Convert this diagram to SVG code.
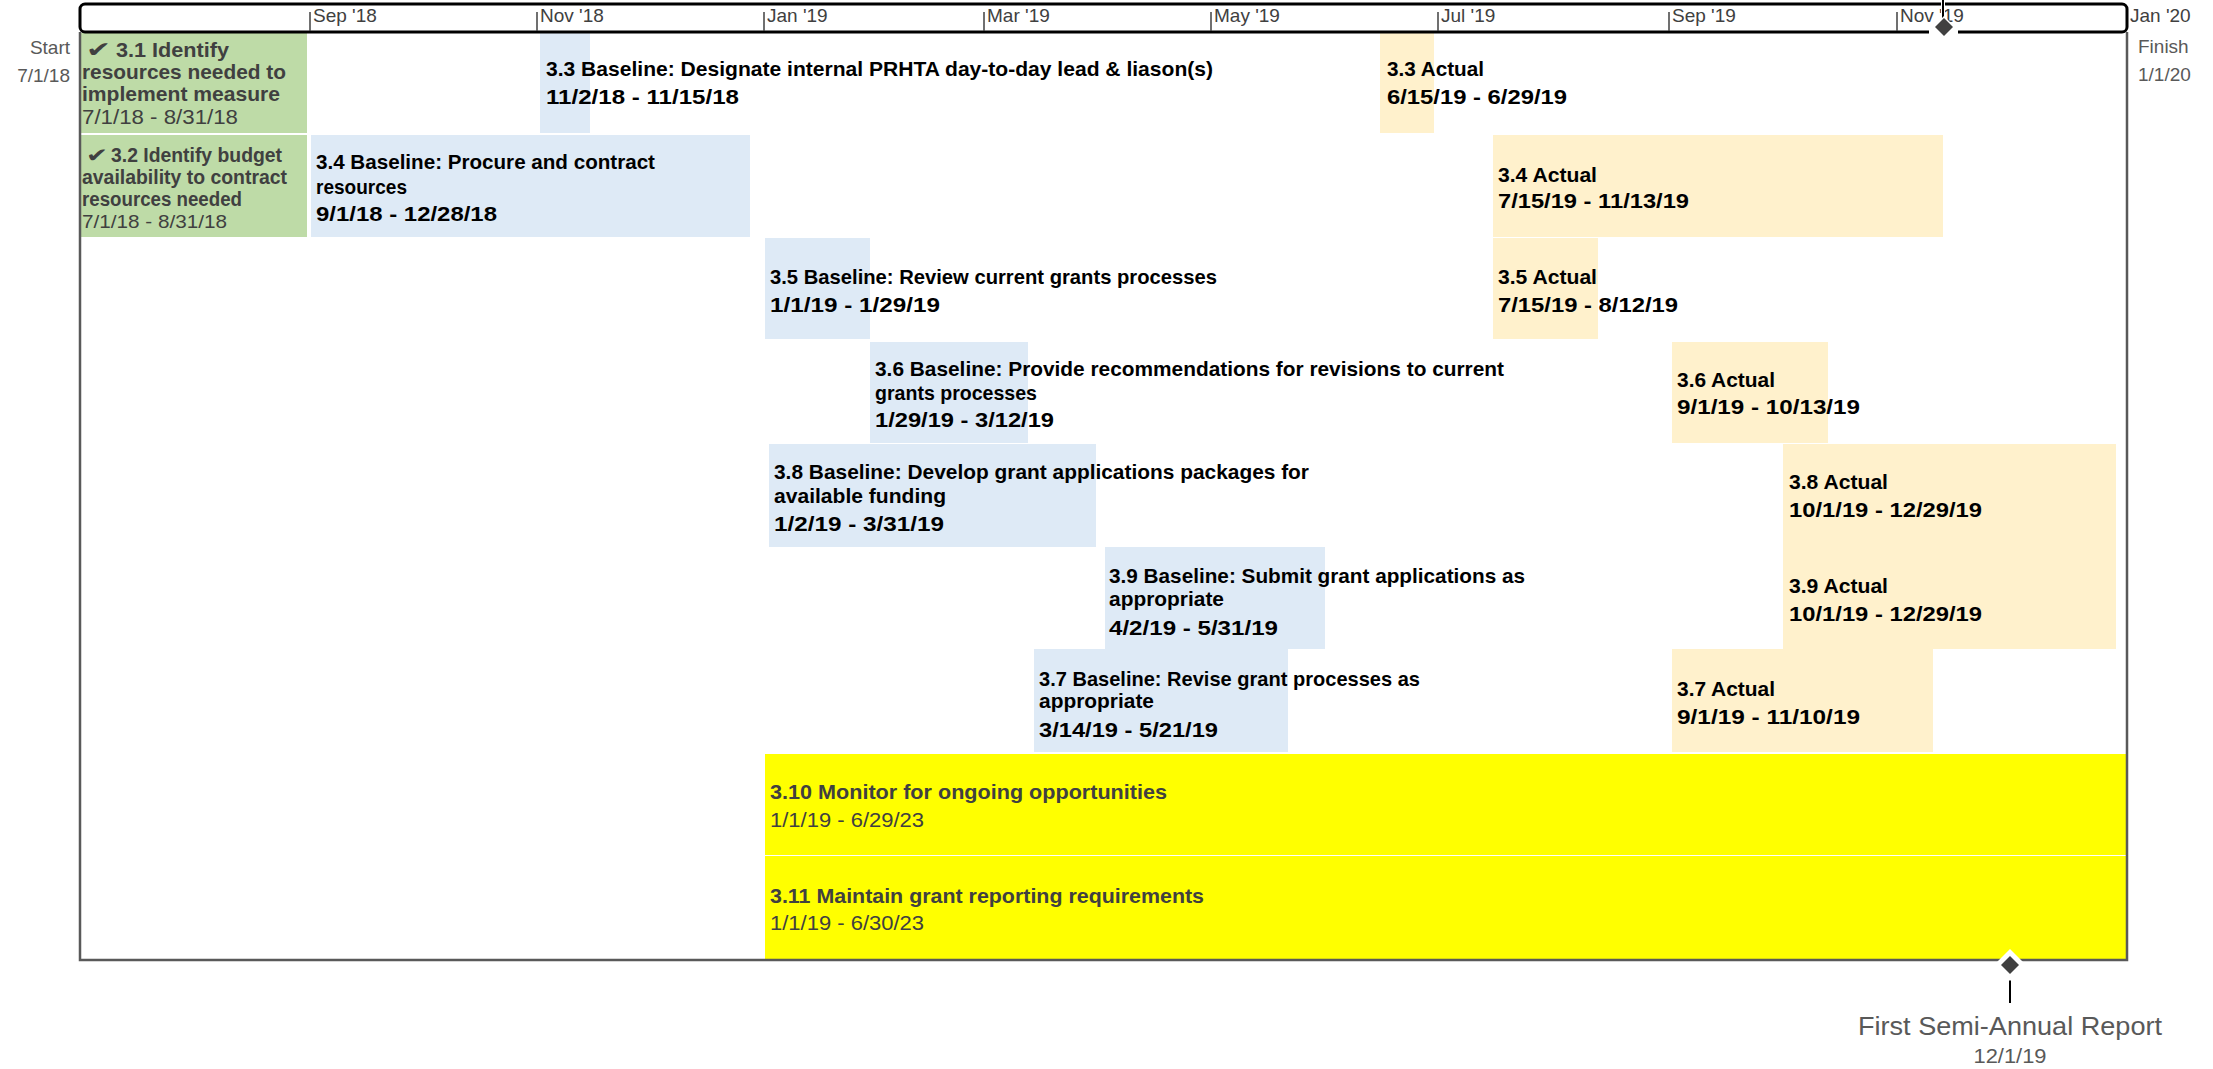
<svg xmlns="http://www.w3.org/2000/svg" width="2213" height="1069" viewBox="0 0 2213 1069">
  <style>
    text { font-family: "Liberation Sans", Arial, sans-serif; }
    .t { font-weight: bold; font-size: 21px; fill: #000; }
    .d { font-weight: bold; font-size: 21px; fill: #000; }
    .done { font-weight: bold; font-size: 21px; fill: #404040; }
    .done2 { font-weight: bold; font-size: 20px; fill: #404040; }
    .ddate { font-size: 20px; fill: #404040; }
    .chk { font-family: "DejaVu Sans", sans-serif; font-size: 22px; fill: #404040; }
    .axis { font-size: 19px; fill: #404040; }
    .edge { font-size: 19px; fill: #595959; }
    .ms { font-size: 26px; fill: #595959; }
    .msd { font-size: 20px; fill: #595959; }
    .ongoing { font-weight: bold; font-size: 21px; fill: #404040; }
    .green { fill: #BEDBA7; }
    .base { fill: #DEEAF6; }
    .act { fill: #FFF1CC; }
    .yel { fill: #FFFF00; }
    .frame { stroke: #595959; stroke-width: 2.5; fill: none; }
    .tick { stroke: #404040; stroke-width: 1.5; }
  </style>
  <defs>
    <path id="halo-s" d="M0,-11 L11,0 L0,11 L-11,0 Z" fill="#fff"/>
    <path id="halo" d="M0,-16 L16,0 L0,16 L-16,0 Z" fill="#fff"/>
    <path id="gem" d="M0,-9 L9,0 L0,9 L-9,0 Z" fill="#404040"/>
  </defs>

  <rect width="2213" height="1069" fill="#fff"/>

  <!-- task bars; every label line is fitted to its printed width -->
  <g id="task-3-1">
    <rect class="green" x="81" y="33" width="226" height="100"/>
    <text class="chk" x="86" y="57" textLength="25" lengthAdjust="spacingAndGlyphs">✔</text>
    <text class="done" x="116" y="57" textLength="113" lengthAdjust="spacingAndGlyphs">3.1 Identify</text>
    <text class="done" x="82" y="79" textLength="204" lengthAdjust="spacingAndGlyphs">resources needed to</text>
    <text class="done" x="82" y="101" textLength="198" lengthAdjust="spacingAndGlyphs">implement measure</text>
    <text class="ddate" x="82" y="124" textLength="156" lengthAdjust="spacingAndGlyphs">7/1/18 - 8/31/18</text>
  </g>
  <g id="task-3-2">
    <rect class="green" x="81" y="135" width="226" height="102"/>
    <text class="chk" x="86" y="162" textLength="22" lengthAdjust="spacingAndGlyphs" style="font-size:20px">✔</text>
    <text class="done2" x="111" y="162" textLength="171" lengthAdjust="spacingAndGlyphs">3.2 Identify budget</text>
    <text class="done2" x="82" y="184" textLength="205" lengthAdjust="spacingAndGlyphs">availability to contract</text>
    <text class="done2" x="82" y="206" textLength="160" lengthAdjust="spacingAndGlyphs">resources needed</text>
    <text class="ddate" x="82" y="228" textLength="145" lengthAdjust="spacingAndGlyphs" style="font-size:19px">7/1/18 - 8/31/18</text>
  </g>
  <g id="task-3-3-baseline">
    <rect class="base" x="540" y="33" width="50" height="100"/>
    <text class="t" x="546" y="76" textLength="667" lengthAdjust="spacingAndGlyphs">3.3 Baseline: Designate internal PRHTA day-to-day lead &amp; liason(s)</text>
    <text class="d" x="546" y="104" textLength="193" lengthAdjust="spacingAndGlyphs">11/2/18 - 11/15/18</text>
  </g>
  <g id="task-3-3-actual">
    <rect class="act" x="1380" y="33" width="54" height="100"/>
    <text class="t" x="1387" y="76" textLength="97" lengthAdjust="spacingAndGlyphs">3.3 Actual</text>
    <text class="d" x="1387" y="104" textLength="180" lengthAdjust="spacingAndGlyphs">6/15/19 - 6/29/19</text>
  </g>
  <g id="task-3-4-baseline">
    <rect class="base" x="311" y="135" width="439" height="102"/>
    <text class="t" x="316" y="169" textLength="339" lengthAdjust="spacingAndGlyphs">3.4 Baseline: Procure and contract</text>
    <text class="t" x="316" y="194" textLength="91" lengthAdjust="spacingAndGlyphs">resources</text>
    <text class="d" x="316" y="221" textLength="181" lengthAdjust="spacingAndGlyphs">9/1/18 - 12/28/18</text>
  </g>
  <g id="task-3-4-actual">
    <rect class="act" x="1493" y="135" width="450" height="102"/>
    <text class="t" x="1498" y="182" textLength="99" lengthAdjust="spacingAndGlyphs">3.4 Actual</text>
    <text class="d" x="1498" y="208" textLength="191" lengthAdjust="spacingAndGlyphs">7/15/19 - 11/13/19</text>
  </g>
  <g id="task-3-5-baseline">
    <rect class="base" x="765" y="238" width="105" height="101"/>
    <text class="t" x="770" y="284" textLength="447" lengthAdjust="spacingAndGlyphs">3.5 Baseline: Review current grants processes</text>
    <text class="d" x="770" y="312" textLength="170" lengthAdjust="spacingAndGlyphs">1/1/19 - 1/29/19</text>
  </g>
  <g id="task-3-5-actual">
    <rect class="act" x="1493" y="238" width="105" height="101"/>
    <text class="t" x="1498" y="284" textLength="99" lengthAdjust="spacingAndGlyphs">3.5 Actual</text>
    <text class="d" x="1498" y="312" textLength="180" lengthAdjust="spacingAndGlyphs">7/15/19 - 8/12/19</text>
  </g>
  <g id="task-3-6-baseline">
    <rect class="base" x="870" y="342" width="158" height="101"/>
    <text class="t" x="875" y="376" textLength="629" lengthAdjust="spacingAndGlyphs">3.6 Baseline: Provide recommendations for revisions to current</text>
    <text class="t" x="875" y="400" textLength="162" lengthAdjust="spacingAndGlyphs">grants processes</text>
    <text class="d" x="875" y="427" textLength="179" lengthAdjust="spacingAndGlyphs">1/29/19 - 3/12/19</text>
  </g>
  <g id="task-3-6-actual">
    <rect class="act" x="1672" y="342" width="156" height="101"/>
    <text class="t" x="1677" y="387" textLength="98" lengthAdjust="spacingAndGlyphs">3.6 Actual</text>
    <text class="d" x="1677" y="414" textLength="183" lengthAdjust="spacingAndGlyphs">9/1/19 - 10/13/19</text>
  </g>
  <g id="task-3-8-baseline">
    <rect class="base" x="769" y="444" width="327" height="103"/>
    <text class="t" x="774" y="479" textLength="535" lengthAdjust="spacingAndGlyphs">3.8 Baseline: Develop grant applications packages for</text>
    <text class="t" x="774" y="503" textLength="172" lengthAdjust="spacingAndGlyphs">available funding</text>
    <text class="d" x="774" y="531" textLength="170" lengthAdjust="spacingAndGlyphs">1/2/19 - 3/31/19</text>
  </g>
  <g id="task-3-8-actual">
    <rect class="act" x="1783" y="444" width="333" height="103"/>
    <text class="t" x="1789" y="489" textLength="99" lengthAdjust="spacingAndGlyphs">3.8 Actual</text>
    <text class="d" x="1789" y="517" textLength="193" lengthAdjust="spacingAndGlyphs">10/1/19 - 12/29/19</text>
  </g>
  <g id="task-3-9-baseline">
    <rect class="base" x="1105" y="547" width="220" height="102"/>
    <text class="t" x="1109" y="583" textLength="416" lengthAdjust="spacingAndGlyphs">3.9 Baseline: Submit grant applications as</text>
    <text class="t" x="1109" y="606" textLength="115" lengthAdjust="spacingAndGlyphs">appropriate</text>
    <text class="d" x="1109" y="635" textLength="169" lengthAdjust="spacingAndGlyphs">4/2/19 - 5/31/19</text>
  </g>
  <g id="task-3-9-actual">
    <rect class="act" x="1783" y="547" width="333" height="102"/>
    <text class="t" x="1789" y="593" textLength="99" lengthAdjust="spacingAndGlyphs">3.9 Actual</text>
    <text class="d" x="1789" y="621" textLength="193" lengthAdjust="spacingAndGlyphs">10/1/19 - 12/29/19</text>
  </g>
  <g id="task-3-7-baseline">
    <rect class="base" x="1034" y="649" width="254" height="103"/>
    <text class="t" x="1039" y="686" textLength="381" lengthAdjust="spacingAndGlyphs">3.7 Baseline: Revise grant processes as</text>
    <text class="t" x="1039" y="708" textLength="115" lengthAdjust="spacingAndGlyphs">appropriate</text>
    <text class="d" x="1039" y="737" textLength="179" lengthAdjust="spacingAndGlyphs">3/14/19 - 5/21/19</text>
  </g>
  <g id="task-3-7-actual">
    <rect class="act" x="1672" y="649" width="261" height="103"/>
    <text class="t" x="1677" y="696" textLength="98" lengthAdjust="spacingAndGlyphs">3.7 Actual</text>
    <text class="d" x="1677" y="724" textLength="183" lengthAdjust="spacingAndGlyphs">9/1/19 - 11/10/19</text>
  </g>
  <g id="task-3-10">
    <rect class="yel" x="765" y="754" width="1362" height="101"/>
    <text class="ongoing" x="770" y="799" textLength="397" lengthAdjust="spacingAndGlyphs">3.10 Monitor for ongoing opportunities</text>
    <text class="ddate" x="770" y="827" textLength="154" lengthAdjust="spacingAndGlyphs">1/1/19 - 6/29/23</text>
  </g>
  <g id="task-3-11">
    <rect class="yel" x="765" y="856" width="1362" height="103"/>
    <text class="ongoing" x="770" y="903" textLength="434" lengthAdjust="spacingAndGlyphs">3.11 Maintain grant reporting requirements</text>
    <text class="ddate" x="770" y="930" textLength="154" lengthAdjust="spacingAndGlyphs">1/1/19 - 6/30/23</text>
  </g>

  <!-- chart frame -->
  <g id="frame">
    <polyline class="frame" points="80,32 80,960 2127,960 2127,32"/>
  </g>

  <!-- timescale header -->
  <g id="timescale">
    <rect x="80" y="4" width="2047" height="28" rx="5" fill="#fff" stroke="#000" stroke-width="3"/>
    <line class="tick" x1="310" y1="12" x2="310" y2="31"/>
    <line class="tick" x1="537" y1="12" x2="537" y2="31"/>
    <line class="tick" x1="764" y1="12" x2="764" y2="31"/>
    <line class="tick" x1="984" y1="12" x2="984" y2="31"/>
    <line class="tick" x1="1211" y1="12" x2="1211" y2="31"/>
    <line class="tick" x1="1438" y1="12" x2="1438" y2="31"/>
    <line class="tick" x1="1669" y1="12" x2="1669" y2="31"/>
    <line class="tick" x1="1897" y1="12" x2="1897" y2="31"/>
    <text class="axis" x="313" y="22">Sep '18</text>
    <text class="axis" x="540" y="22">Nov '18</text>
    <text class="axis" x="767" y="22">Jan '19</text>
    <text class="axis" x="987" y="22">Mar '19</text>
    <text class="axis" x="1214" y="22">May '19</text>
    <text class="axis" x="1441" y="22">Jul '19</text>
    <text class="axis" x="1672" y="22">Sep '19</text>
    <text class="axis" x="1900" y="22">Nov '19</text>
    <text class="axis" x="2130" y="22">Jan '20</text>
  </g>

  <g id="start">
    <text class="edge" x="70" y="54" text-anchor="end">Start</text>
    <text class="edge" x="70" y="82" text-anchor="end">7/1/18</text>
  </g>
  <g id="finish">
    <text class="edge" x="2138" y="53">Finish</text>
    <text class="edge" x="2138" y="81">1/1/20</text>
  </g>

  <!-- milestone leader lines -->
  <g id="connectors">
    <line x1="1943" y1="0" x2="1943" y2="18" stroke="#fff" stroke-width="4"/>
    <line x1="1943" y1="0" x2="1943" y2="18" stroke="#000" stroke-width="2"/>
    <line x1="2010" y1="973" x2="2010" y2="1003" stroke="#000" stroke-width="2"/>
  </g>

  <g id="milestone-today">
    <rect x="1929" y="29" width="29" height="5" fill="#fff"/>
    <use href="#halo-s" x="1944" y="27"/>
    <use href="#gem" x="1944" y="27"/>
  </g>
  <g id="milestone-report">
    <use href="#halo" x="2010" y="965"/>
    <use href="#gem" x="2010" y="965"/>
    <text class="ms" x="2010" y="1035" text-anchor="middle" textLength="304" lengthAdjust="spacingAndGlyphs">First Semi-Annual Report</text>
    <text class="msd" x="2010" y="1063" text-anchor="middle" textLength="73" lengthAdjust="spacingAndGlyphs">12/1/19</text>
  </g>
</svg>
